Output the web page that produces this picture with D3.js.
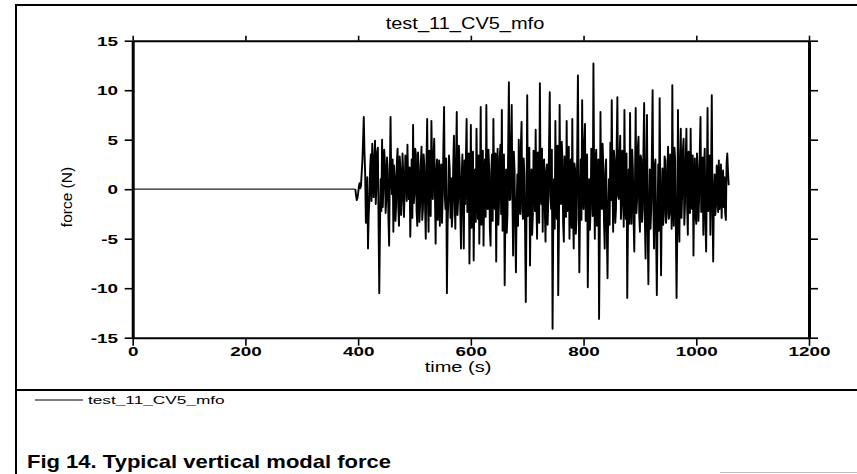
<!DOCTYPE html>
<html><head><meta charset="utf-8">
<script src="https://cdn.jsdelivr.net/npm/d3@7"></script>
<style>body{margin:0;background:#fff}svg{display:block}text{font-family:"Liberation Sans",Arial,sans-serif;fill:#000}</style>
</head><body><svg id="c" width="857" height="474"></svg>
<script>
const chartTitle = "test_11_CV5_mfo";
const seriesName = "test_11_CV5_mfo";
const xLabel = "time (s)";
const yLabel = "force (N)";
const caption = "Fig 14. Typical vertical modal force";
const xTicks = [0, 200, 400, 600, 800, 1000, 1200];
const yTicks = [-15, -10, -5, 0, 5, 10, 15];
const quietStart = 0, quietLevel = 0;
const sampleStart = 395, sampleStep = 1.25;
const force = [
 0.0,-0.6,-1.1,-0.9,-0.4,0.2,0.6,0.1,0.3,1.6,2.8,4.9,7.3,3.8,1.5,-3.4,-2.5,1.2,-6.0,-2.6,
 -1.0,2.1,3.5,-1.2,4.6,1.8,-0.8,3.1,4.9,-1.5,0.5,3.8,4.2,-3.5,-10.5,-4.0,1.0,-2.2,5.0,-1.8,
 0.5,4.0,2.6,-2.4,-1.0,3.2,2.0,-3.0,-5.7,1.5,7.3,0.8,-0.5,3.0,-4.3,2.4,1.2,-3.2,-1.5,2.8,
 4.1,-1.8,-3.7,3.3,2.0,-2.6,-1.0,3.6,1.5,-2.8,-0.6,3.4,2.8,-1.2,4.5,0.6,-1.0,2.2,-4.8,-0.8,
 3.0,-2.9,6.5,-1.4,-0.5,4.1,3.5,-2.2,-3.7,3.7,2.0,-3.3,-1.5,2.7,4.3,-3.1,-2.0,3.5,2.3,-1.7,
 -5.0,2.6,7.1,-0.9,-4.3,3.9,0.5,-2.7,6.9,2.4,-1.0,3.0,5.1,-0.4,-5.5,1.8,3.0,-3.1,0.5,2.9,
 -3.7,1.6,2.5,-3.4,-1.0,4.2,8.3,-0.6,-2.0,3.1,-10.5,-3.6,-1.0,3.4,2.0,-2.9,1.1,-3.8,-2.5,2.4,
 5.4,-1.2,-4.0,2.8,7.8,-2.6,-1.0,4.4,2.5,-2.0,-6.0,1.2,3.5,-1.8,-6.0,2.9,-1.5,3.3,7.1,-2.3,
 0.5,3.6,-7.5,-1.5,6.5,-3.9,-2.0,3.8,-7.2,-0.7,2.0,-3.3,6.1,0.9,-3.0,3.4,-5.5,0.3,8.3,-3.6,
 -1.0,3.9,-5.7,0.8,3.0,-2.8,8.5,-1.6,-2.0,4.0,2.0,-4.1,-5.7,1.7,3.5,-3.2,7.1,-0.2,-2.0,3.6,
 -7.3,0.7,4.1,-3.6,-1.5,3.2,4.5,-2.5,8.0,-4.2,-3.0,3.5,-9.7,-2.9,2.0,-4.4,-2.5,4.3,10.8,-1.1,
 -1.0,4.6,8.5,-0.8,-6.7,3.8,2.0,-3.5,-8.4,-1.9,1.5,-3.7,5.0,-0.9,-2.5,4.4,6.8,-2.1,-3.0,3.1,
 1.5,-4.3,-11.4,-2.4,9.5,-2.7,-2.0,4.2,-7.7,-1.2,2.0,-4.6,-2.6,3.9,3.0,-2.2,6.0,-1.3,-5.0,3.7,
 0.5,-3.4,10.7,0.4,-1.5,4.1,-4.3,2.7,3.0,-2.1,-5.3,1.9,2.5,-3.6,-1.0,4.5,9.8,-0.6,-2.0,4.0,
 -14.1,-3.2,1.0,-4.0,6.9,-1.7,-3.0,4.4,-10.7,-4.2,8.5,0.2,-1.5,4.8,3.0,-3.5,-5.3,3.3,2.0,-2.8,
 6.9,-2.2,-1.5,4.3,-5.0,1.1,3.0,-3.9,7.1,-1.9,-6.0,2.6,2.0,-4.5,-3.0,3.8,11.5,-0.3,-8.4,-2.0,
 3.0,-3.1,9.0,-1.0,-2.0,4.7,6.6,-3.2,-3.0,3.5,-9.9,-3.4,1.0,-4.1,-2.0,4.1,3.0,-2.7,12.7,1.4,
 -5.0,3.2,4.0,-3.7,-1.0,3.0,-13.1,-4.8,7.8,-1.4,-2.0,4.6,2.5,-3.3,-6.0,1.7,3.0,-4.2,-9.0,-2.1,
 1.0,-3.6,4.7,-1.1,9.0,0.6,-4.3,3.9,3.0,-3.4,-2.0,4.3,9.3,-0.7,-1.0,3.2,5.4,-3.0,-1.5,3.9,
 1.5,-3.8,8.0,-0.4,-3.0,3.6,-11.0,-3.9,2.0,-3.5,7.7,-1.2,-3.5,4.0,2.0,-3.1,-6.3,0.9,8.2,-2.4,
 -1.0,4.2,5.3,-2.6,-4.3,3.4,3.0,-3.3,-2.0,4.1,8.7,-3.0,-7.0,1.5,7.5,-3.7,-9.6,-2.2,2.0,-4.0,
 -2.0,3.7,10.0,-1.3,-6.0,2.3,3.0,-4.6,-10.7,-3.0,2.5,-4.2,9.2,-0.5,-8.7,-1.6,2.1,-3.6,-2.5,3.3,
 2.9,-3.4,-2.5,2.1,4.3,-3.0,-2.5,3.5,1.5,-4.0,10.5,-0.9,-3.7,4.2,3.0,-3.9,-11.0,-4.4,8.0,-1.8,
 -5.3,2.7,6.1,-2.9,-0.5,4.0,5.1,-3.6,-1.5,3.1,6.1,-1.7,-4.6,3.8,1.0,-2.4,6.1,-1.2,-2.0,3.4,
 -6.7,-0.4,3.1,-2.7,-3.5,3.6,2.0,-3.2,-1.0,3.9,7.3,-2.3,-1.0,3.2,-4.6,2.2,4.1,-3.4,-6.3,0.6,
 8.2,-2.2,-1.0,3.4,-4.6,1.3,9.5,-1.7,-7.3,-0.6,1.5,-2.6,-1.7,2.4,1.0,-2.3,2.9,-2.0,0.5,2.5,
 -2.9,0.3,1.9,-1.8,1.2,-2.4,-3.1,2.6,3.6,1.8,0.4
];

const svg = d3.select("#c");
const x = d3.scaleLinear().domain([0, 1200]).range([132.7, 809]);
const y = d3.scaleLinear().domain([-15, 15]).range([337.7, 40.7]);

// frame
const frame = [[16,5,857,5],[16,4,16,474],[16,390,857,390],[720,472.5,857,472.5]];
frame.forEach((f,i) => svg.append("line").attr("x1",f[0]).attr("y1",f[1]).attr("x2",f[2]).attr("y2",f[3])
  .attr("stroke", i===3 ? "#bbb" : "#000").attr("stroke-width", i===3 ? 1 : 2));

function stext(px, py, str, size, sx, weight, anchor) {
  return svg.append("text").attr("transform", `translate(${px},${py}) scale(${sx},1)`)
    .attr("text-anchor", anchor).attr("font-size", size).attr("font-weight", weight).text(str);
}

// data
const quiet = [{t: quietStart, v: quietLevel}, {t: sampleStart, v: force[0]}];
const pts = force.map((v, i) => ({t: sampleStart + i * sampleStep, v}));
const line = d3.line().x(d => x(d.t)).y(d => y(d.v));
svg.append("path").datum(quiet).attr("d", line)
  .attr("fill", "none").attr("stroke", "#222").attr("stroke-width", 1.3);
svg.append("path").datum(pts).attr("d", line)
  .attr("fill", "none").attr("stroke", "#000").attr("stroke-width", 1.9).attr("stroke-linejoin", "round");

// axes
const fmt = d => String(d);
const gl = svg.append("g").attr("transform", "translate(132.7,0)")
  .call(d3.axisLeft(y).tickValues(yTicks).tickSize(8).tickSizeOuter(0).tickFormat(fmt));
const gr = svg.append("g").attr("transform", "translate(809,0)")
  .call(d3.axisRight(y).tickValues(yTicks).tickSize(9).tickSizeOuter(0).tickFormat(""));
const gt = svg.append("g").attr("transform", "translate(0,40.7)")
  .call(d3.axisTop(x).tickValues(xTicks).tickSize(5).tickSizeOuter(0).tickFormat(""));
const gb = svg.append("g").attr("transform", "translate(0,337.7)")
  .call(d3.axisBottom(x).tickValues(xTicks).tickSize(8).tickSizeOuter(0).tickFormat(fmt));

[gl, gr].forEach(g => g.select(".domain").attr("stroke-width", 3));
[gt, gb].forEach(g => g.select(".domain").attr("stroke-width", 2));
[gl, gr, gt, gb].forEach(g => { g.selectAll(".tick line").attr("stroke-width", 1.6); g.attr("font-family", null).attr("font-size", null); });

gl.selectAll(".tick text").attr("x", -14.7 / 1.4).attr("transform", "scale(1.4,1)")
  .attr("font-size", 13.5).attr("font-weight", "bold");
gb.selectAll(".tick text").attr("y", 8.7).attr("transform", "scale(1.4,1)")
  .attr("font-size", 13.5).attr("font-weight", "bold");

// texts
stext(465, 29, chartTitle, 16, 1.25, "normal", "middle");
stext(458, 372, xLabel, 14, 1.43, "normal", "middle");
svg.append("text").attr("transform", "translate(72,197) rotate(-90)").attr("text-anchor", "middle")
  .attr("font-size", 15.5).text(yLabel);

// legend
svg.append("line").attr("x1", 35).attr("x2", 83).attr("y1", 400).attr("y2", 400).attr("stroke", "#000").attr("stroke-width", 1);
stext(88, 404, seriesName, 11.5, 1.5, "normal", "start");

// caption
stext(27, 468, caption, 18.5, 1.19, "bold", "start");
</script></body></html>
